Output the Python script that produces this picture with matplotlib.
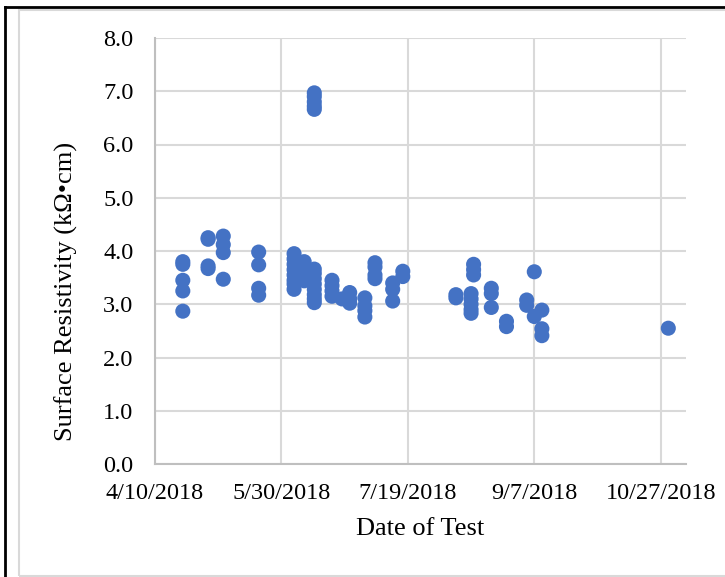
import matplotlib
matplotlib.use("Agg")
import matplotlib.pyplot as plt
from matplotlib.lines import Line2D
from matplotlib.patches import Rectangle
import pandas as pd

# fechas de ensayo y resistividad superficial (kOhm*cm)
fechas = (["2018-04-21"] * 5 + ["2018-05-01"] * 4 + ["2018-05-07"] * 4 +
          ["2018-05-21"] * 4 + ["2018-06-04"] * 8 + ["2018-06-08"] * 5 +
          ["2018-06-12"] * 13 + ["2018-06-19"] * 4 + ["2018-06-23"] * 1 +
          ["2018-06-26"] * 3 + ["2018-07-02"] * 4 + ["2018-07-06"] * 4 +
          ["2018-07-13"] * 3 + ["2018-07-17"] * 2 + ["2018-08-07"] * 2 +
          ["2018-08-13"] * 5 + ["2018-08-14"] * 3 + ["2018-08-21"] * 3 +
          ["2018-08-27"] * 2 + ["2018-09-04"] * 2 + ["2018-09-07"] * 2 +
          ["2018-09-10"] * 3 + ["2018-10-30"] * 1)
resistividad = [3.80, 3.75, 3.45, 3.25, 2.87,
                4.25, 4.22, 3.72, 3.67,
                4.28, 4.12, 3.97, 3.47,
                3.98, 3.74, 3.30, 3.17,
                3.95, 3.85, 3.75, 3.65, 3.55, 3.45, 3.38, 3.28,
                3.80, 3.72, 3.62, 3.52, 3.44,
                6.97, 6.90, 6.80, 6.72, 6.66, 3.66, 3.58, 3.48, 3.38, 3.28, 3.18, 3.10, 3.03,
                3.45, 3.35, 3.25, 3.15,
                3.10,
                3.22, 3.10, 3.02,
                3.12, 2.97, 2.88, 2.76,
                3.78, 3.70, 3.55, 3.48,
                3.40, 3.28, 3.06,
                3.62, 3.52,
                3.18, 3.12,
                3.20, 3.10, 3.00, 2.90, 2.83,
                3.75, 3.65, 3.55,
                3.30, 3.20, 2.94,
                2.68, 2.58,
                3.08, 2.98,
                3.61, 2.77,
                2.89, 2.54, 2.41,
                2.55]

ticks_x = ["2018-04-10", "2018-05-30", "2018-07-19", "2018-09-07", "2018-10-27"]
etiquetas_x = ["4/10/2018", "5/30/2018", "7/19/2018", "9/7/2018", "10/27/2018"]
ticks_y = [0, 1, 2, 3, 4, 5, 6, 7, 8]

plt.rcParams['font.family'] = ['Liberation Serif', 'DejaVu Serif']

fig = plt.figure(figsize=(7.25, 5.77), dpi=100)
ax = fig.add_axes([155 / 725, 1 - 464 / 577, 531 / 725, 426 / 577])

ax.scatter(pd.to_datetime(fechas), resistividad, s=118, color='#4472C4',
           edgecolors='none', zorder=3, clip_on=False)

ax.set_xlim(pd.Timestamp("2018-04-10"), pd.Timestamp("2018-11-06"))
ax.set_ylim(0, 8)
ax.set_xticks(pd.to_datetime(ticks_x))
ax.set_xticklabels(etiquetas_x)
ax.set_yticks(ticks_y)
ax.set_yticklabels([f"{v:.1f}" for v in ticks_y])
ax.tick_params(length=0, labelsize=17.5, colors='black')
ax.tick_params(axis='x', pad=14)
ax.tick_params(axis='y', pad=15.5)

ax.grid(True, color='#D9D9D9', linewidth=1.5, zorder=0)
ax.set_axisbelow(True)
for lado in ['top', 'right']:
    ax.spines[lado].set_visible(False)
for lado in ['left', 'bottom']:
    ax.spines[lado].set_color('#BFBFBF')
    ax.spines[lado].set_linewidth(1.5)

ax.set_xlabel("Date of Test", fontsize=19, labelpad=10)
ax.set_ylabel("Surface Resistivity (kΩ•cm)", fontsize=19, labelpad=18)
ax.yaxis.label.set_y(0.406)

# marco exterior
fig.add_artist(Rectangle((19 / 725, 1 - 576 / 577), 720 / 725, 566 / 577,
                         transform=fig.transFigure, fill=False,
                         edgecolor='#D9D9D9', linewidth=1.5))
fig.add_artist(Line2D([5 / 725, 1], [1 - 7 / 577, 1 - 7 / 577],
                      transform=fig.transFigure, color='black', linewidth=2))
fig.add_artist(Line2D([5 / 725, 5 / 725], [0, 1 - 7 / 577],
                      transform=fig.transFigure, color='black', linewidth=2))

fig.savefig("out.png", dpi=100)
